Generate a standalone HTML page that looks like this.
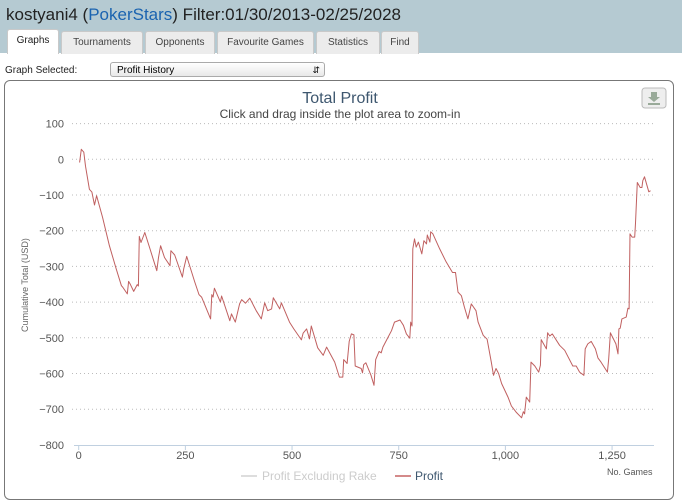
<!DOCTYPE html>
<html><head><meta charset="utf-8">
<style>
body{margin:0;width:682px;height:488px;overflow:hidden;background:#fff;font-family:"Liberation Sans",sans-serif;position:relative}
#hdr{position:absolute;left:0;top:0;width:682px;height:53px;background:#b5cad2}
#title{position:absolute;left:6px;top:5px;font-size:17px;color:#222}
#title span{color:#1a63b0}
.tab{position:absolute;top:31px;height:22px;background:#ececec;border:1px solid #c9c9c9;border-bottom:none;border-radius:3px 3px 0 0;font-size:10px;color:#444;text-align:center;line-height:22px}
.tab.on{background:#fff;top:29px;height:24px;color:#222}
#gs{position:absolute;left:5px;top:65px;font-size:10px;color:#222}
#sel{position:absolute;left:110px;top:62px;width:214px;height:15px;border:1px solid #aaa;border-radius:3px;background:linear-gradient(#fff,#e8e8e8);font-size:10px;line-height:15px;padding-left:6px;box-sizing:border-box;width:215px}
#sel b{position:absolute;right:4px;top:0;font-weight:normal;font-size:9px}
#panel{position:absolute;left:4px;top:80px;width:670px;height:420px;border:1px solid #777;border-radius:6px;box-sizing:border-box}
svg{position:absolute;left:0;top:0}
</style></head><body>
<div id="hdr">
<div id="title">kostyani4 (<span>PokerStars</span>) Filter:01/30/2013-02/25/2028</div>
<div class="tab on" style="left:7px;width:50px">Graphs</div>
<div class="tab" style="left:61px;width:80px">Tournaments</div>
<div class="tab" style="left:145px;width:68px">Opponents</div>
<div class="tab" style="left:217px;width:95px">Favourite Games</div>
<div class="tab" style="left:316px;width:62px">Statistics</div>
<div class="tab" style="left:381px;width:36px">Find</div>
</div>
<div id="gs">Graph Selected:</div>
<div id="sel">Profit History<b>&#8693;</b></div>
<div id="panel"></div>
<svg id="chart" width="682" height="488">
<text x="340" y="103" text-anchor="middle" font-size="16" fill="#3e576f">Total Profit</text>
<text x="340" y="118" text-anchor="middle" font-size="12" fill="#444">Click and drag inside the plot area to zoom-in</text>
<g><rect x="642" y="88" width="24" height="20" rx="3" fill="#eee" stroke="#bbb"/><path d="M651 92h6v5h3l-6 5-6-5h3z" fill="#9a9"/><rect x="648" y="103" width="12" height="2" fill="#9a9"/></g>
<text transform="translate(28,285) rotate(-90)" text-anchor="middle" font-size="9" fill="#666">Cumulative Total (USD)</text>
<text x="607" y="475" font-size="9" fill="#555">No. Games</text>
<g id="grid"></g><g id="yl"></g><g id="xl"></g>
<line x1="74" y1="445.5" x2="654" y2="445.5" stroke="#c0d0e0"/>
<path id="line" fill="none" stroke="#c06060" stroke-width="1" stroke-linejoin="round"/>
<g><line x1="241" y1="476" x2="257" y2="476" stroke="#ddd" stroke-width="2"/><text x="262" y="480" font-size="12" fill="#ccc">Profit Excluding Rake</text></g>
<g><line x1="395" y1="476" x2="411" y2="476" stroke="#d48a8a" stroke-width="2"/><text x="415" y="480" font-size="12" fill="#3e576f">Profit</text></g>
</svg>
<script>
const yTicks=[100,0,-100,-200,-300,-400,-500,-600,-700,-800];
const xTicks=[0,250,500,750,1000,1250];
const xTickLabels=["0","250","500","750","1,000","1,250"];
const games=[2,6,12,16,25,31,37,42,56,72,88,100,103,114,117,121,129,137,140,142,146,155,167,183,187,192,201,214,216,225,243,246,253,272,282,288,309,312,315,318,332,335,354,358,367,377,382,391,401,416,428,436,443,452,456,471,475,494,504,522,526,534,541,545,560,573,581,600,611,619,621,629,634,639,645,648,662,665,668,673,685,692,696,704,709,713,725,733,740,753,761,768,776,778,781,783,787,791,796,804,809,815,817,823,825,830,846,861,876,883,889,897,904,912,920,931,936,948,957,967,972,978,984,991,1006,1014,1025,1038,1042,1045,1049,1057,1060,1069,1078,1082,1084,1096,1099,1104,1110,1127,1139,1158,1166,1174,1184,1187,1193,1201,1211,1217,1224,1239,1242,1246,1259,1264,1266,1269,1273,1283,1287,1290,1292,1297,1303,1305,1309,1316,1320,1322,1326,1336,1340];
const profit=[-9,28,20,-19,-84,-92,-128,-102,-163,-242,-307,-354,-358,-377,-342,-350,-370,-351,-355,-216,-233,-205,-251,-312,-275,-242,-275,-298,-256,-268,-330,-307,-272,-344,-379,-386,-447,-379,-386,-361,-400,-383,-452,-433,-456,-405,-393,-403,-389,-424,-447,-402,-424,-419,-388,-419,-402,-456,-475,-506,-487,-475,-503,-467,-528,-549,-526,-568,-610,-610,-561,-572,-510,-489,-492,-579,-586,-598,-575,-570,-605,-633,-561,-538,-542,-526,-498,-480,-456,-450,-465,-489,-501,-456,-467,-251,-223,-246,-232,-265,-228,-237,-212,-232,-203,-209,-251,-287,-317,-317,-372,-382,-414,-447,-405,-424,-456,-493,-504,-568,-605,-586,-600,-628,-666,-691,-708,-724,-707,-713,-666,-680,-568,-579,-596,-577,-505,-531,-486,-495,-489,-521,-535,-579,-579,-596,-605,-531,-517,-510,-531,-557,-568,-596,-559,-486,-517,-545,-475,-473,-447,-442,-417,-419,-209,-218,-218,-179,-65,-79,-79,-60,-49,-91,-88];
const X=g=>78.7+g*0.4267;
const Y=v=>159.3-v*0.357;
const NS="http://www.w3.org/2000/svg";
const grid=document.getElementById('grid'),yl=document.getElementById('yl'),xl=document.getElementById('xl');
yTicks.forEach(v=>{
 if(v!==-800){const l=document.createElementNS(NS,'line');
 l.setAttribute('x1',72);l.setAttribute('x2',656);l.setAttribute('y1',Y(v));l.setAttribute('y2',Y(v));
 l.setAttribute('stroke','#bbb');l.setAttribute('stroke-dasharray','1,3');
 
 
 grid.appendChild(l);}
 const t=document.createElementNS(NS,'text');
 t.setAttribute('x',64);t.setAttribute('y',Y(v)+4);t.setAttribute('text-anchor','end');
 t.setAttribute('font-size','11');t.setAttribute('fill','#555');t.textContent=v===0?'0':(v<0?'\u2212'+(-v):v);
 
 
 yl.appendChild(t);
});
xTicks.forEach((g,i)=>{
 const l=document.createElementNS(NS,'line');
 l.setAttribute('x1',X(g));l.setAttribute('x2',X(g));l.setAttribute('y1',445);l.setAttribute('y2',450);l.setAttribute('stroke','#c0d0e0');
 
 
 xl.appendChild(l);
 const t=document.createElementNS(NS,'text');
 t.setAttribute('x',X(g));t.setAttribute('y',459);t.setAttribute('text-anchor','middle');
 t.setAttribute('font-size','11');t.setAttribute('fill','#555');t.textContent=xTickLabels[i];
 
 
 xl.appendChild(t);
});
document.getElementById('line').setAttribute('d',games.map((g,i)=>(i?'L':'M')+X(g).toFixed(1)+' '+Y(profit[i]).toFixed(1)).join(''));
</script>
</body></html>
